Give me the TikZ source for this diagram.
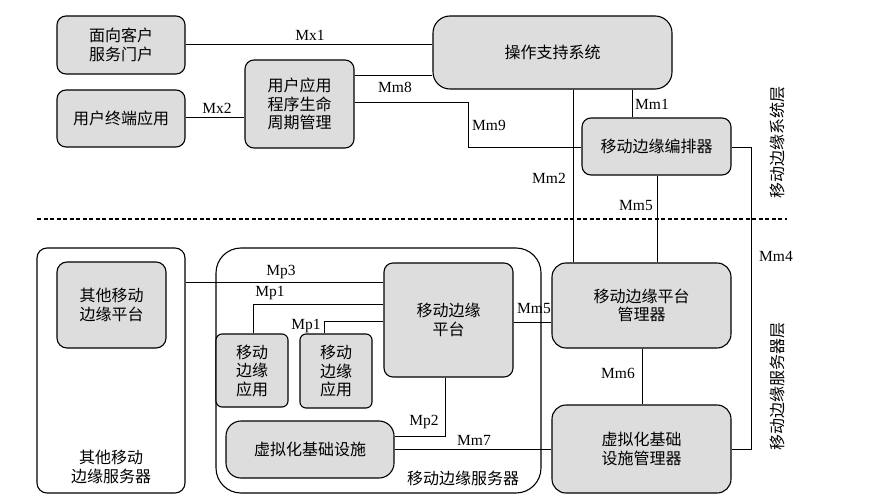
\documentclass[tikz,border=0pt]{standalone}
\usepackage{fontspec}
\setmainfont{Liberation Serif}
\newfontfamily\cjk{Noto Sans CJK SC}
\definecolor{boxgray}{RGB}{221,221,221}
\tikzset{
 box/.style={draw, fill=boxgray, line width=1.1pt, rounded corners=9pt, align=center, inner sep=0pt, font=\cjk\fontsize{16}{18.5}\selectfont},
 frame/.style={draw, fill=white, line width=1.1pt, inner sep=0pt},
 conn/.style={line width=1pt},
 lbl/.style={inner sep=0pt, font=\fontsize{15.5}{18}\selectfont},
 cjklbl/.style={inner sep=0pt, align=center, font=\cjk\fontsize{16}{18.5}\selectfont},
}
\begin{document}
\begin{tikzpicture}[x=1pt,y=-1pt]
\useasboundingbox (0,0) rectangle (882,502);
% outer frames
\node[frame, rounded corners=10pt, minimum width=148pt, minimum height=245pt] (osrv) at (111,370.5) {};
\node[frame, rounded corners=25pt, minimum width=325pt, minimum height=245pt] (mes) at (378.5,370.5) {};
% dashed separator
\draw[line width=1.6pt, dash pattern=on 4pt off 2.5pt] (37,219) coordinate (dl) -- (787,219) coordinate (dr);
% top boxes
\node[box, minimum width=128pt, minimum height=58pt] (portal) at (121,45) {面向客户\\服务门户};
\node[box, minimum width=128pt, minimum height=57pt] (uea) at (121,118.5) {用户终端应用};
\node[box, minimum width=109pt, minimum height=88pt] (lcm) at (299.5,104) {用户应用\\程序生命\\周期管理};
\node[box, rounded corners=17pt, minimum width=239pt, minimum height=73pt] (oss) at (552.5,52.5) {操作支持系统};
\node[box, minimum width=149pt, minimum height=57pt] (meo) at (656.5,146.5) {移动边缘编排器};
% bottom boxes
\node[box, rounded corners=10pt, minimum width=109pt, minimum height=86pt] (omep) at (111.5,305) {其他移动\\边缘平台};
\node[box, minimum width=129pt, minimum height=114pt] (mep) at (448.5,320) {移动边缘\\平台};
\node[box, rounded corners=6pt, minimum width=72pt, minimum height=73pt] (app1) at (252,370.5) {移动\\边缘\\应用};
\node[box, rounded corners=6pt, minimum width=72pt, minimum height=74pt] (app2) at (336,371) {移动\\边缘\\应用};
\node[box, rounded corners=15pt, minimum width=168pt, minimum height=57pt] (vi) at (310,449.5) {虚拟化基础设施};
\node[box, rounded corners=14pt, minimum width=179pt, minimum height=85pt] (mepm) at (641.5,305.5) {移动边缘平台\\管理器};
\node[box, rounded corners=14pt, minimum width=179pt, minimum height=88pt] (vim) at (641.5,449) {虚拟化基础\\设施管理器};
% connectors
\draw[conn] (portal.east) -- (portal.east -| oss.west);
\draw[conn] (uea.east |- 0,118) -- (lcm.west |- 0,118);
\draw[conn] (lcm.east |- 0,76) -- (oss.west |- 0,76);
\draw[conn] (lcm.east |- 0,103) -| (468,148) coordinate (m9) -- (meo.west |- 0,148);
\draw[conn] (oss.south -| 573,0) -- (mepm.north -| 573,0);
\draw[conn] (oss.south -| 632,0) -- (meo.north -| 632,0);
\draw[conn] (meo.south -| 657,0) -- (mepm.north -| 657,0);
\draw[conn] (meo.east |- 0,148) -| (751,449) coordinate (m4) -- (vim.east |- 0,449);
\draw[conn] (osrv.east |- 0,282) -- (mep.west |- 0,282);
\draw[conn] (app1.north -| 253,0) |- (mep.west |- 0,304);
\draw[conn] (app2.north -| 324,0) |- (mep.west |- 0,321);
\draw[conn] (vi.east |- 0,436) -| (mep.south -| 445,0);
\draw[conn] (vi.east |- 0,449) -- (vim.west |- 0,449);
\draw[conn] (mep.east |- 0,322) -- (mepm.west |- 0,322);
\draw[conn] (mepm.south -| 642,0) -- (vim.north -| 642,0);
% interface labels
\node[lbl] (lmx1) at (310,35) {Mx1};
\node[lbl] (lmx2) at (217,108) {Mx2};
\node[lbl] (lmm8) at (395,87) {Mm8};
\node[lbl] (lmm9) at (489,125) {Mm9};
\node[lbl] (lmm2) at (549,178.5) {Mm2};
\node[lbl] (lmm1) at (652,104) {Mm1};
\node[lbl] (lmm5a) at (636,205.5) {Mm5};
\node[lbl] (lmm4) at (776,256) {Mm4};
\node[lbl] (lmp3) at (281,272) {Mp3};
\node[lbl] (lmp1a) at (270,293) {Mp1};
\node[lbl] (lmp1b) at (306,326) {Mp1};
\node[lbl] (lmp2) at (424,422) {Mp2};
\node[lbl] (lmm7) at (474,440) {Mm7};
\node[lbl] (lmm5b) at (534,309) {Mm5};
\node[lbl] (lmm6) at (618,373) {Mm6};
% text labels
\node[cjklbl] (osrvlbl) at (111,467) {其他移动\\边缘服务器};
\node[cjklbl] (meslbl) at (463,478) {移动边缘服务器};
\node[cjklbl, rotate=90] (syslayer) at (777,143) {移动边缘系统层};
\node[cjklbl, rotate=90] (srvlayer) at (777,386) {移动边缘服务器层};
\end{tikzpicture}
\end{document}
